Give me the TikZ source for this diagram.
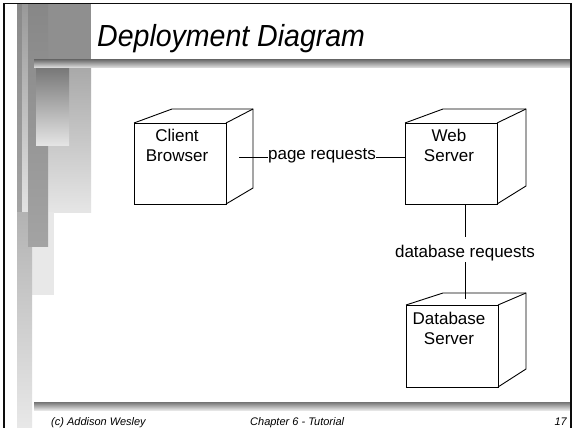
\documentclass[tikz,border=0pt]{standalone}
\usepackage{fontspec}
\setmainfont{Liberation Sans}
\usetikzlibrary{calc}
\definecolor{bordercol}{gray}{0.05}
\tikzset{
  deco/.style={draw=none},
  cubeface/.style={rectangle, draw, line width=0.9pt, minimum width=92pt, minimum height=81pt, inner sep=0pt, outer sep=0pt},
  cubeedge/.style={line width=0.9pt},
  nodetext/.style={align=center, font=\fontsize{17}{20}\selectfont, inner sep=0pt},
  linktext/.style={font=\fontsize{17}{20}\selectfont, inner sep=0pt},
  link/.style={line width=0.8pt},
  footer/.style={font=\fontsize{11}{13}\selectfont\itshape, inner sep=0pt},
  bar/.style={top color=black!55, bottom color=black!10, draw=none},
}
\begin{document}
\begin{tikzpicture}[x=1pt,y=-1pt]
\useasboundingbox (0,0) rectangle (574,428);
\fill[white] (0,0) rectangle (574,428);
% ---- left decoration ----
\shade[deco, top color=black!46, bottom color=black!36] (17,4) rectangle (22,212);
\shade[deco, top color=black!40, bottom color=black!11] (22,4) rectangle (28,212);
\fill[black!44] (48,4) rectangle (91,60);
\shade[deco, top color=black!35, bottom color=black!10] (48,60) rectangle (91,212);
\fill[black!9] (30,212) rectangle (54,295);
\shade[deco, top color=black!30, bottom color=black!9] (17,212) rectangle (32,428);
\shade[deco, top color=black!47, bottom color=black!36] (28,4) rectangle (48,246);
\shade[deco, top color=black!53, bottom color=black!10] (36,68) rectangle (69,146);
% ---- bars ----
\shade[bar] (34,60) rectangle (571,68);
\shade[bar] (34,402) rectangle (571,410);
% ---- border ----
\draw[bordercol, line width=1.8pt] (4,430) -- (4,3.5) -- (571,3.5) -- (571,430);
% ---- title ----
\node[anchor=base west, inner sep=0pt] (title) at (97,47)
  {\scalebox{0.935}[1]{\fontsize{30.5}{36}\selectfont\itshape Deployment Diagram}};
% ---- cubes ----
\node[cubeface] (client) at (180,163.5) {};
\draw[cubeedge] (client.north west) -- ++(38,-14) -- ($(client.north east)+(27,-14)$)
   -- ($(client.south east)+(27,-16)$) -- (client.south east);
\draw[cubeedge] (client.north east) -- ++(27,-14);
\node[nodetext] (clientlbl) at (177,145.8) {Client\\Browser};

\node[cubeface] (web) at (451,163.5) {};
\draw[cubeedge] (web.north west) -- ++(38,-14) -- ($(web.north east)+(29,-14)$)
   -- ($(web.south east)+(29,-18)$) -- (web.south east);
\draw[cubeedge] (web.north east) -- ++(29,-14);
\node[nodetext] (weblbl) at (449,145.5) {Web\\Server};

\node[cubeface, minimum height=82pt] (db) at (452,346) {};
\draw[cubeedge] (db.north west) -- ++(37,-12) -- ($(db.north east)+(28,-12)$)
   -- ($(db.south east)+(28,-18)$) -- (db.south east);
\draw[cubeedge] (db.north east) -- ++(28,-12);
\node[nodetext] (dblbl) at (449,328.3) {Database\\Server};

% ---- connectors ----
\coordinate (prstart) at (239,157);
\node[linktext, anchor=mid] (preq) at (322,157) {page requests};
\draw[link] (prstart) -- (preq.mid west);
\draw[link] (preq.mid east) -- (web.west |- preq.mid east);

\node[linktext, anchor=base] (dbreq) at (465,257) {database requests};
\coordinate (dbtop) at (465,299);
\draw[link] (web.south -| dbreq.north) -- ([yshift=7.6pt]dbreq.north);
\draw[link] ([yshift=-1.4pt]dbreq.south) -- (dbtop);

% ---- footer ----
\node[footer, anchor=base west] (fleft) at (51,425) {(c) Addison Wesley};
\node[footer, anchor=base west] (fmid) at (250,425) {Chapter 6 - Tutorial};
\node[footer, anchor=base east] (fright) at (567,425) {17};
\end{tikzpicture}
\end{document}
